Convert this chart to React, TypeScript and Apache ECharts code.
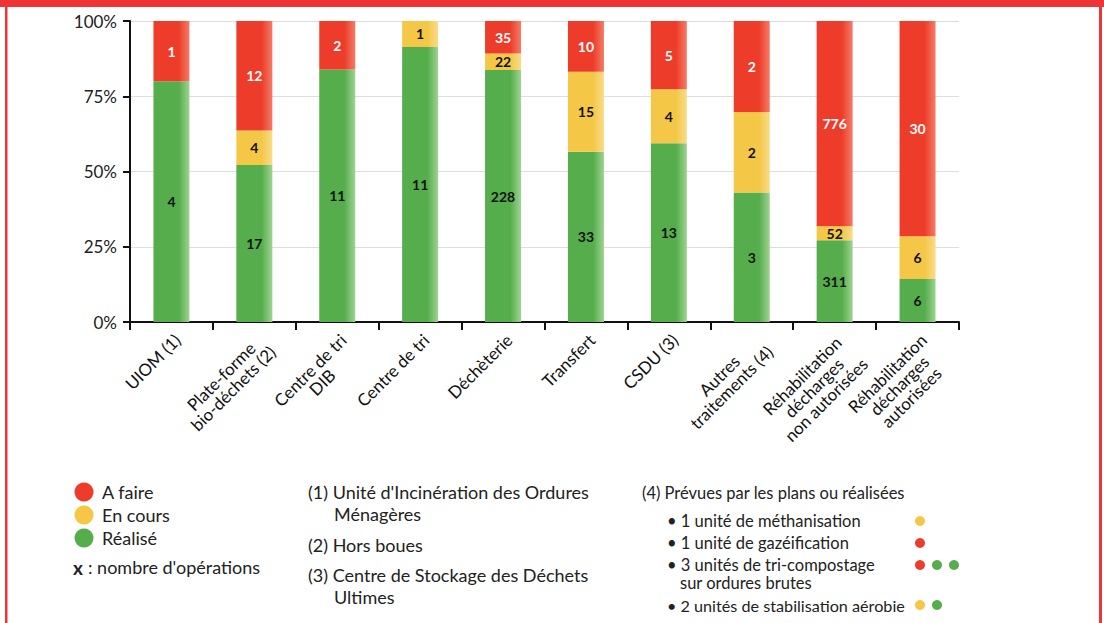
import React, { useEffect, useRef } from "react";
import * as echarts from "echarts";

const categories = [
  "UIOM (1)",
  "Plate-forme\nbio-déchets (2)",
  "Centre de tri\nDIB",
  "Centre de tri",
  "Déchèterie",
  "Transfert",
  "CSDU (3)",
  "Autres\ntraitements (4)",
  "Réhabilitation\ndécharges\nnon autorisées",
  "Réhabilitation\ndécharges\nautorisées",
];

// number of operations (bar labels)
const realiseCount = [4, 17, 11, 11, 228, 33, 13, 3, 311, 6];
const enCoursCount = [0, 4, 0, 1, 22, 15, 4, 2, 52, 6];
const aFaireCount = [1, 12, 2, 0, 35, 10, 5, 2, 776, 30];

// share of each status (%)
const realisePct = [80.0, 52.2, 83.9, 91.4, 83.7, 56.6, 59.4, 43.0, 27.2, 14.3];
const enCoursPct = [0, 11.4, 0, 8.6, 5.5, 26.5, 17.9, 26.8, 4.6, 14.2];
const aFairePct = [20.0, 36.4, 16.1, 0, 10.8, 16.9, 22.7, 30.2, 68.2, 71.5];

const yTicks = [0, 25, 50, 75, 100];

const RED = "#ED3D2A";
const YELLOW = "#F5C747";
const GREEN = "#55AD4B";
const FONT = "Lato, 'Open Sans', sans-serif";

function grad(c: string, light: string) {
  return new echarts.graphic.LinearGradient(1, 0, 0, 0, [
    { offset: 0, color: light },
    { offset: 0.3, color: c },
    { offset: 1, color: c },
  ]);
}

export default function App() {
  const ref = useRef<HTMLDivElement>(null);
  useEffect(() => {
    if (!ref.current) return;
    const chart = echarts.init(ref.current, undefined, { renderer: "svg" });

    const mkSeries = (
      name: string,
      pct: number[],
      counts: number[],
      color: string,
      light: string,
      labelColor: string
    ) => ({
      name,
      type: "bar",
      stack: "total",
      barWidth: 36,
      data: pct,
      itemStyle: { color: grad(color, light) },
      label: {
        show: true,
        position: "inside",
        color: labelColor,
        fontFamily: FONT,
        fontWeight: "bold",
        fontSize: 14,
        formatter: (p: any) => (counts[p.dataIndex] ? String(counts[p.dataIndex]) : ""),
      },
    });

    const txt = (text: string, x: number, y: number, extra: any = {}) => ({
      type: "text",
      style: {
        text,
        x,
        y,
        fill: "#222",
        fontSize: 18,
        fontFamily: FONT,
        verticalAlign: "middle",
        textVerticalAlign: "middle",
        ...extra,
      },
    });
    const dot = (cx: number, cy: number, r: number, fill: string) => ({
      type: "circle",
      shape: { cx, cy, r },
      style: { fill },
    });
    const s3 = { fontSize: 16.5 };
    const s3b = { fontSize: 16.2 };

    chart.setOption({
      animation: false,
      backgroundColor: "#ffffff",
      grid: { left: 130, top: 21, width: 829, height: 301 },
      xAxis: {
        type: "category",
        data: categories,
        axisLine: { lineStyle: { color: "#111", width: 2 } },
        axisTick: { show: true, length: 8, lineStyle: { color: "#111", width: 2 } },
        axisLabel: {
          interval: 0,
          rotate: 45,
          margin: 9,
          verticalAlign: "top",
          color: "#111",
          fontSize: 17,
          fontFamily: FONT,
          formatter: (v: string) =>
            v
              .split("\n")
              .map((l) => `{c|${l}}`)
              .join("\n"),
          rich: {
            c: { align: "center", fontSize: 17, fontFamily: FONT, color: "#111", lineHeight: 17 },
          },
        },
      },
      yAxis: {
        type: "value",
        min: 0,
        max: 100,
        interval: 25,
        axisLine: { show: true, lineStyle: { color: "#111", width: 2 } },
        axisTick: { show: true, length: 7, lineStyle: { color: "#111", width: 2 } },
        splitLine: { show: true, lineStyle: { color: "#dddddd", width: 1 } },
        axisLabel: {
          margin: 13,
          color: "#222",
          fontSize: 17,
          fontFamily: FONT,
          formatter: (v: number) => (yTicks.includes(v) ? `${v}%` : ""),
        },
      },
      series: [
        mkSeries("Réalisé", realisePct, realiseCount, GREEN, "#9FD392", "#111"),
        mkSeries("En cours", enCoursPct, enCoursCount, YELLOW, "#F8DC8A", "#111"),
        mkSeries("A faire", aFairePct, aFaireCount, RED, "#F47C66", "#ffffff"),
      ],
      graphic: [
        // frame
        { type: "rect", shape: { x: 0, y: 0, width: 1104, height: 7 }, style: { fill: "#EE3434" } },
        { type: "rect", shape: { x: 5, y: 0, width: 2.5, height: 623 }, style: { fill: "#EE3434" } },
        { type: "rect", shape: { x: 1099, y: 0, width: 3, height: 623 }, style: { fill: "#EE3434" } },
        // status legend
        dot(84, 492, 9.5, RED),
        dot(84, 515, 9.5, YELLOW),
        dot(84, 538, 9.5, GREEN),
        txt("A faire", 102, 492),
        txt("En cours", 102, 515),
        txt("Réalisé", 102, 538),
        txt("x", 73, 567, { fontWeight: "bold", fontSize: 19 }),
        txt(": nombre d'opérations", 88, 567),
        // footnotes
        txt("(1) Unité d'Incinération des Ordures", 308, 492),
        txt("Ménagères", 334, 514),
        txt("(2) Hors boues", 308, 545),
        txt("(3) Centre de Stockage des Déchets", 308, 575),
        txt("Ultimes", 334, 597),
        txt("(4) Prévues par les plans ou réalisées", 642, 493, s3),
        txt("• 1 unité de méthanisation", 667, 521, s3),
        txt("• 1 unité de gazéification", 667, 543, s3),
        txt("• 3 unités de tri-compostage", 667, 565, s3),
        txt("sur ordures brutes", 680, 583, s3),
        txt("• 2 unités de stabilisation aérobie", 667, 605, s3b),
        dot(920, 521, 5, YELLOW),
        dot(920, 543, 5, RED),
        dot(920, 565, 5, RED),
        dot(937, 565, 5, GREEN),
        dot(954, 565, 5, GREEN),
        dot(920, 605, 5, YELLOW),
        dot(937, 605, 5, GREEN),
      ],
    });
    return () => chart.dispose();
  }, []);
  return (
    <div
      ref={ref}
      style={{ position: "fixed", left: 0, top: 0, width: 1104, height: 623, background: "#fff" }}
    />
  );
}
